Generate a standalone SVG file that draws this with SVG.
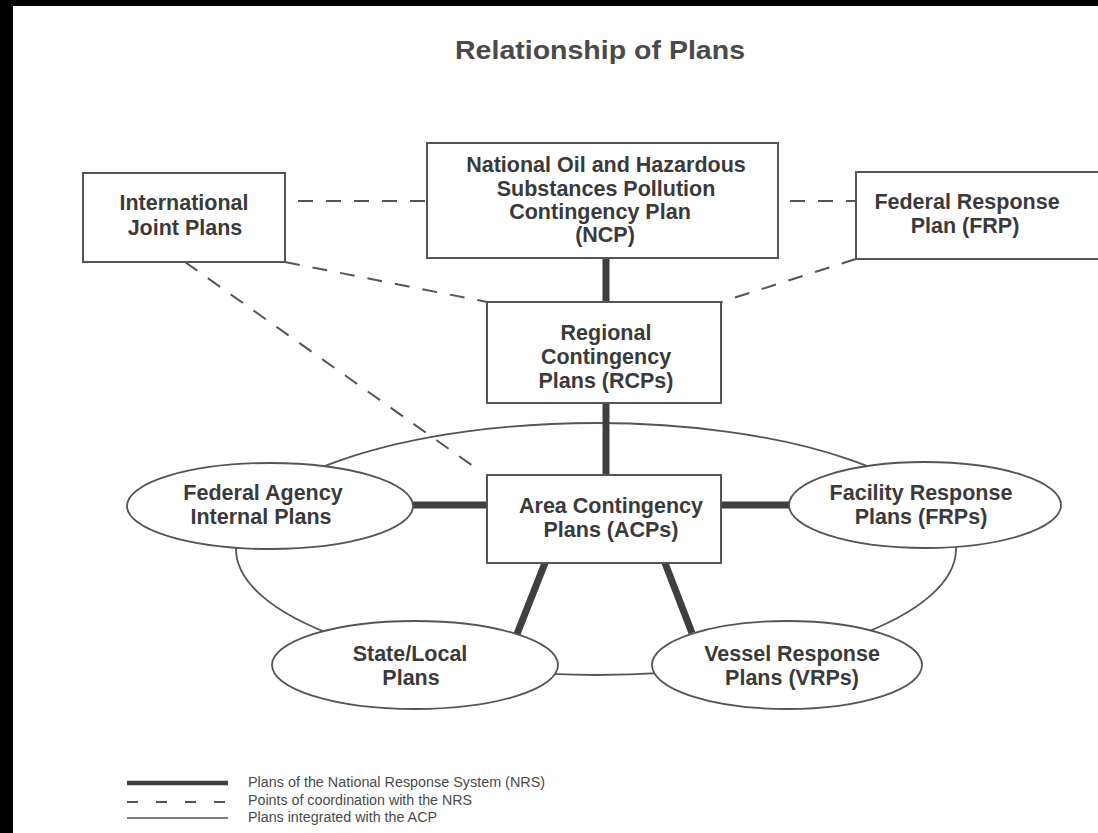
<svg xmlns="http://www.w3.org/2000/svg" width="1098" height="833" viewBox="0 0 1098 833">
<style>
  .lbl { font-family: "Liberation Sans", Arial, sans-serif; font-weight: bold; font-size: 21.5px; fill: #3a3a3a; text-anchor: middle; }
  .title { font-family: "Liberation Sans", Arial, sans-serif; font-weight: bold; font-size: 26px; fill: #4a4a4a; text-anchor: middle; }
  .leg { font-family: "Liberation Sans", Arial, sans-serif; font-size: 14px; fill: #4a4a4a; }
  .box { fill: #ffffff; stroke: #555555; stroke-width: 2; }
  .oval { fill: #ffffff; stroke: #555555; stroke-width: 1.8; }
  .thick { stroke: #3f3f3f; stroke-width: 7; fill: none; }
  .dash { stroke: #555555; stroke-width: 2; stroke-dasharray: 15 13; fill: none; }
  .thin { stroke: #555555; stroke-width: 1.8; fill: none; }
</style>
<rect x="0" y="0" width="1098" height="833" fill="#ffffff"/>
<rect x="0" y="0" width="1098" height="6" fill="#000000"/>
<rect x="0" y="0" width="13" height="833" fill="#000000"/>

<text class="title" x="600" y="59" textLength="290" lengthAdjust="spacingAndGlyphs">Relationship of Plans</text>

<g id="connectors">
  <ellipse class="thin" cx="596" cy="549" rx="360" ry="126"/>
  <line class="dash" x1="298" y1="201" x2="427" y2="201"/>
  <line class="dash" x1="790" y1="201" x2="856" y2="201"/>
  <line class="dash" x1="285" y1="262" x2="487" y2="302"/>
  <line class="dash" x1="856" y1="259" x2="721" y2="302"/>
  <line class="dash" x1="185" y1="262" x2="480" y2="471"/>
  <line class="thick" x1="606" y1="258" x2="606" y2="302"/>
  <line class="thick" x1="606" y1="403" x2="606" y2="475"/>
  <line class="thick" x1="412" y1="505" x2="487" y2="505"/>
  <line class="thick" x1="721" y1="505" x2="790" y2="505"/>
  <line class="thick" x1="545" y1="563" x2="517" y2="634"/>
  <line class="thick" x1="665" y1="563" x2="692" y2="633"/>
</g>

<g id="international">
  <rect class="box" x="83" y="173" width="202" height="89"/>
  <text class="lbl" x="184" y="210">International</text>
  <text class="lbl" x="185" y="235">Joint Plans</text>
</g>

<g id="ncp">
  <rect class="box" x="427" y="143" width="351" height="115"/>
  <text class="lbl" x="606" y="172">National Oil and Hazardous</text>
  <text class="lbl" x="606" y="196">Substances Pollution</text>
  <text class="lbl" x="600" y="219">Contingency Plan</text>
  <text class="lbl" x="605" y="242">(NCP)</text>
</g>

<g id="frp">
  <rect class="box" x="856" y="172" width="260" height="87"/>
  <text class="lbl" x="967" y="209">Federal Response</text>
  <text class="lbl" x="965" y="233">Plan (FRP)</text>
</g>

<g id="rcp">
  <rect class="box" x="487" y="302" width="234" height="101"/>
  <text class="lbl" x="606" y="340">Regional</text>
  <text class="lbl" x="606" y="364">Contingency</text>
  <text class="lbl" x="606" y="388">Plans (RCPs)</text>
</g>

<g id="acp">
  <rect class="box" x="487" y="475" width="234" height="88"/>
  <text class="lbl" x="611" y="513">Area Contingency</text>
  <text class="lbl" x="611" y="537">Plans (ACPs)</text>
</g>

<g id="federal-agency">
  <ellipse class="oval" cx="270" cy="506" rx="143" ry="43"/>
  <text class="lbl" x="263" y="500">Federal Agency</text>
  <text class="lbl" x="261" y="524">Internal Plans</text>
</g>

<g id="facility">
  <ellipse class="oval" cx="925" cy="505" rx="136" ry="43"/>
  <text class="lbl" x="921" y="500">Facility Response</text>
  <text class="lbl" x="921" y="524">Plans (FRPs)</text>
</g>

<g id="state-local">
  <ellipse class="oval" cx="415" cy="665" rx="143" ry="44"/>
  <text class="lbl" x="410" y="661">State/Local</text>
  <text class="lbl" x="411" y="685">Plans</text>
</g>

<g id="vessel">
  <ellipse class="oval" cx="787" cy="665" rx="135" ry="44"/>
  <text class="lbl" x="792" y="661">Vessel Response</text>
  <text class="lbl" x="792" y="685">Plans (VRPs)</text>
</g>

<g id="legend">
  <line x1="127" y1="783" x2="228" y2="783" stroke="#3f3f3f" stroke-width="4.5"/>
  <line x1="127" y1="802" x2="228" y2="802" stroke="#555555" stroke-width="2" stroke-dasharray="11 18"/>
  <line x1="127" y1="818" x2="228" y2="818" stroke="#555555" stroke-width="1.5"/>
  <text class="leg" x="248" y="787" textLength="297" lengthAdjust="spacingAndGlyphs">Plans of the National Response System (NRS)</text>
  <text class="leg" x="248" y="805" textLength="224" lengthAdjust="spacingAndGlyphs">Points of coordination with the NRS</text>
  <text class="leg" x="248" y="822" textLength="189" lengthAdjust="spacingAndGlyphs">Plans integrated with the ACP</text>
</g>
</svg>
